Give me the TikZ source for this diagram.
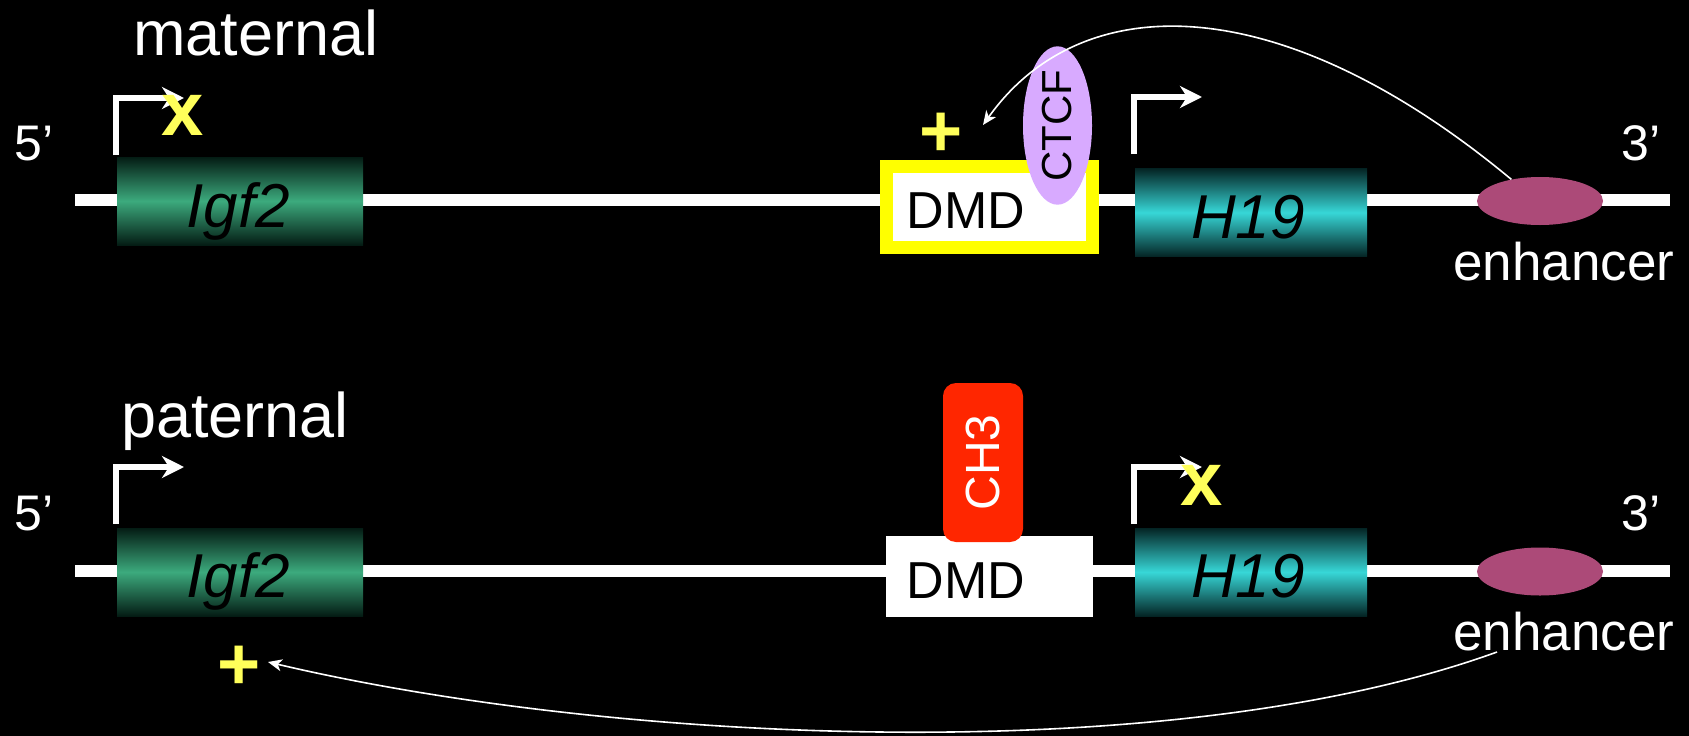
\documentclass[tikz,border=0pt]{standalone}
\usepackage{fontspec}
\setmainfont{Liberation Sans}
\usetikzlibrary{shapes.geometric,arrows.meta}
\definecolor{igfmid}{RGB}{60,170,125}
\definecolor{igfedge}{RGB}{4,28,20}
\definecolor{hmid}{RGB}{55,215,215}
\definecolor{hedge}{RGB}{4,36,36}
\definecolor{enhcol}{RGB}{172,74,120}
\definecolor{ctcfcol}{RGB}{216,170,255}
\definecolor{chcol}{RGB}{255,38,0}
\definecolor{mkyellow}{RGB}{255,255,90}
\definecolor{dmdyellow}{RGB}{255,255,0}
\newcommand{\fsz}[1]{\fontsize{#1}{#1}\selectfont}
\begin{document}
\begin{tikzpicture}[x=1pt,y=-1pt,
  lbl/.style={text=white,inner sep=0pt},
  strand/.style={white,line width=12pt},
  igf/.style={rectangle,inner sep=0pt,minimum width=246pt,minimum height=88pt,top color=igfedge,bottom color=igfedge,middle color=igfmid},
  hgene/.style={rectangle,inner sep=0pt,minimum width=232pt,minimum height=88pt,top color=hedge,bottom color=hedge,middle color=hmid},
  gname/.style={inner sep=0pt,font=\fsz{62}\itshape,text=black,anchor=base},
  enh/.style={ellipse,fill=enhcol,inner sep=0pt,minimum width=126pt,minimum height=48pt},
  prom/.style={white,line width=6pt,line join=miter,-{Stealth[length=22pt,width=22pt,inset=7pt]}},
  ymark/.style={text=mkyellow,inner sep=0pt,font=\fsz{76}\bfseries},
  yplus/.style={text=mkyellow,inner sep=0pt,font=\fsz{74}\bfseries},
  curvearrow/.style={white,line width=1.6pt,-{Stealth[length=14pt,width=12pt,inset=4pt]}},
  dmdtext/.style={inner sep=0pt,font=\fsz{52},text=black,anchor=base},
  endlbl/.style={lbl,font=\fsz{50},anchor=base west},
  title/.style={lbl,font=\fsz{63},anchor=base west},
  enhlbl/.style={lbl,font=\fsz{53},anchor=base west}
]
\useasboundingbox (0,0) rectangle (1689,736);
\fill[black] (0,0) rectangle (1689,736);

% ---------------- maternal strand ----------------
\coordinate (a1) at (75,200);
\coordinate (b1) at (1670,200);
\draw[strand] (a1) -- (b1);
\node[igf] (igf1) at (240,201) {};
\node[gname] (igf1t) at (238,227) {Igf2};
\node[draw=dmdyellow,line width=13pt,fill=white,minimum width=206pt,minimum height=81pt,inner sep=0pt] (dmd1) at (989.5,207) {};
\node[dmdtext] (dmd1t) at (966,228) {DMD};
\node[ellipse,fill=ctcfcol,minimum width=127pt,minimum height=69pt,inner sep=0pt,rotate=90,font=\fsz{42}] (ctcf) at (1057.5,125.5) {CTCF};
\node[hgene] (h191) at (1251,212.5) {};
\node[gname] (h191t) at (1248,238) {H19};
\node[enh] (enh1) at (1540,201) {};
\node[enhlbl] (enh1t) at (1453,280) {enhancer};
\node[endlbl] (p5a) at (14,160) {5’};
\node[endlbl] (p3a) at (1621,160) {3’};
\node[title] (mat) at (133,55) {maternal};
\coordinate (pr1) at (115.5,155);
\coordinate (pr1e) at (184,98);
\draw[prom] (pr1) |- (pr1e);
\coordinate (pr2) at (1134,154);
\coordinate (pr2e) at (1202,97);
\draw[prom] (pr2) |- (pr2e);
\node[ymark] (x1) at (183,115) {x};
\node[yplus] (plus1) at (941,135) {+};
\coordinate (t1) at (983,125);
\draw[curvearrow] (enh1.143) .. controls (1281,-12) and (1082,-14) .. (t1);

% ---------------- paternal strand ----------------
\coordinate (a2) at (75,571);
\coordinate (b2) at (1670,571);
\draw[strand] (a2) -- (b2);
\node[igf] (igf2) at (240,572) {};
\node[gname] (igf2t) at (238,597) {Igf2};
\node[fill=white,minimum width=207pt,minimum height=81pt,inner sep=0pt] (dmd2) at (989.5,576.5) {};
\node[dmdtext] (dmd2t) at (966,598) {DMD};
\node[rectangle,rounded corners=13pt,fill=chcol,minimum width=159pt,minimum height=80pt,inner sep=0pt,rotate=90,text=white,font=\fsz{48}] (ch3) at (983,462.5) {CH3};
\node[hgene] (h192) at (1251,572) {};
\node[gname] (h192t) at (1248,597) {H19};
\node[enh] (enh2) at (1540,571.5) {};
\node[enhlbl] (enh2t) at (1453,650) {enhancer};
\node[endlbl] (p5b) at (14,530) {5’};
\node[endlbl] (p3b) at (1621,530) {3’};
\node[title] (pat) at (121,437) {paternal};
\coordinate (pr3) at (115.5,524);
\coordinate (pr3e) at (184,467);
\draw[prom] (pr3) |- (pr3e);
\coordinate (pr4) at (1134,524);
\coordinate (pr4e) at (1202,467);
\draw[prom] (pr4) |- (pr4e);
\node[ymark] (x2) at (1201.5,485.5) {x};
\node[yplus] (plus2) at (239.5,668) {+};
\coordinate (s2) at (1497,652);
\coordinate (t2) at (268,662);
\draw[curvearrow] (s2) .. controls (1168,771) and (608.6,742.5) .. (t2);
\end{tikzpicture}
\end{document}
